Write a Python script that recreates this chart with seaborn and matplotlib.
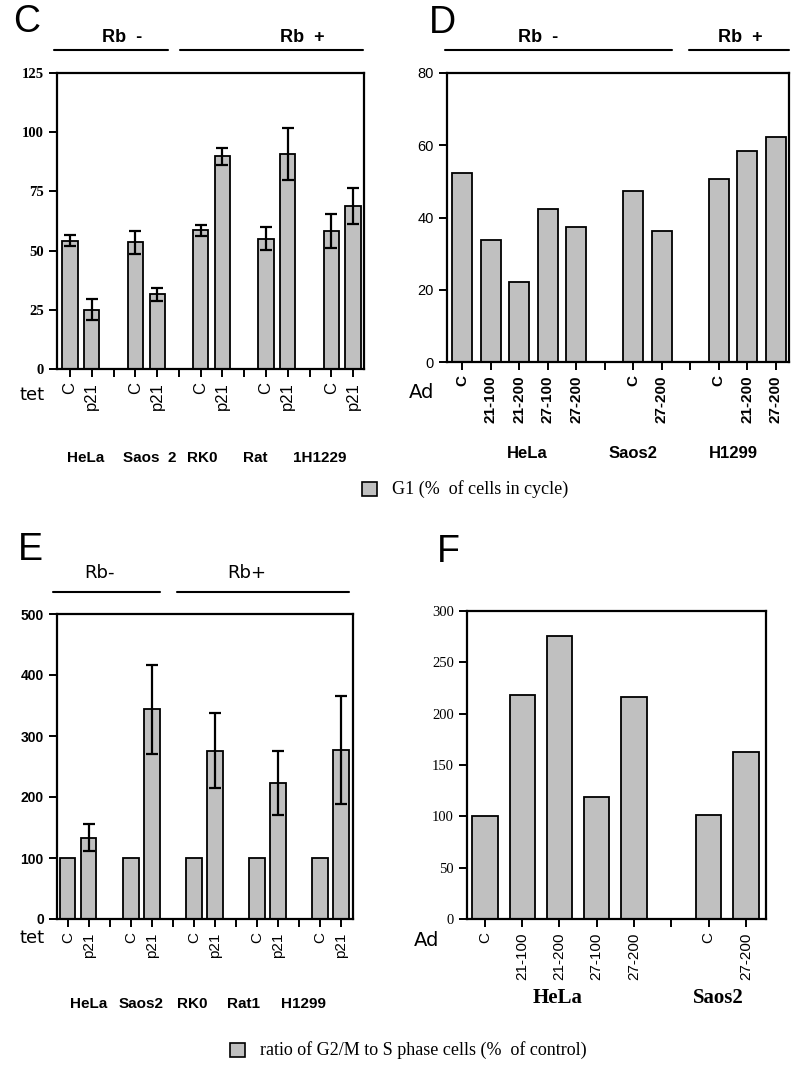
import numpy as np
import pandas as pd
import matplotlib
matplotlib.use('Agg')
import matplotlib.pyplot as plt
import seaborn as sns

# ---- data ----
# C: G1 (% of cells in cycle), tet-inducible p21
c_cells = ['HeLa', 'Saos2', 'RK0', 'Rat1', 'H1229']
c_conds = ['C', 'p21']
c_values = [54.2, 25.1, 53.5, 31.6, 58.6, 89.9, 55.0, 90.8, 58.2, 68.8]
c_errors = [2.3, 4.3, 4.8, 2.8, 2.4, 3.6, 4.8, 11.1, 7.3, 7.6]

# D: G1 (% of cells in cycle), adenovirus
d_groups = ['HeLa', 'HeLa', 'HeLa', 'HeLa', 'HeLa', 'Saos2', 'Saos2', 'H1299', 'H1299', 'H1299']
d_conds = ['C', '21-100', '21-200', '27-100', '27-200', 'C', '27-200', 'C', '21-200', '27-200']
d_values = [52.4, 33.8, 22.2, 42.4, 37.4, 47.3, 36.3, 50.7, 58.5, 62.3]

# E: ratio of G2/M to S phase cells (% of control), tet-inducible p21
e_cells = ['HeLa', 'Saos2', 'RK0', 'Rat1', 'H1299']
e_values = [100, 133, 100, 344, 100, 276, 100, 223, 100, 277]
e_errors = [0, 22, 0, 73, 0, 61, 0, 53, 0, 88]

# F: ratio of G2/M to S phase cells (% of control), adenovirus
f_groups = ['HeLa', 'HeLa', 'HeLa', 'HeLa', 'HeLa', 'Saos2', 'Saos2']
f_conds = ['C', '21-100', '21-200', '27-100', '27-200', 'C', '27-200']
f_values = [100, 218, 276, 119, 216, 101, 163]

BAR = '#c0c0c0'
W, H = 800, 1074

sns.set_theme(style='white')
plt.rcParams['axes.linewidth'] = 1.6
plt.rcParams['text.color'] = 'black'
plt.rcParams['xtick.color'] = 'black'
plt.rcParams['ytick.color'] = 'black'
plt.rcParams['axes.edgecolor'] = 'black'


def slots(groups, conds):
    # one category per bar, plus an empty slot between cell lines
    order, keys, labels = [], [], []
    prev = None
    for i, (g, c) in enumerate(zip(groups, conds)):
        if prev is not None and g != prev:
            order.append('gap%d' % i)
            labels.append('')
        key = g + ' ' + c
        order.append(key)
        keys.append(key)
        labels.append(c)
        prev = g
    return order, keys, labels


def panel(ax, order, keys, vals, labels, errs=None, width=0.7):
    df = pd.DataFrame({'cat': keys, 'val': vals})
    sns.barplot(data=df, x='cat', y='val', order=order, color=BAR, saturation=1,
                edgecolor='black', linewidth=1.3, width=width, errorbar=None, ax=ax)
    if errs is not None:
        pos = [order.index(k) for k in keys]
        e = np.array(errs, dtype=float)
        m = e > 0
        ax.errorbar(np.array(pos)[m], np.array(vals)[m], yerr=e[m], fmt='none',
                    ecolor='black', elinewidth=1.6, capsize=4, capthick=1.6)
    ax.set_xticks(range(len(order)))
    ax.set_xticklabels(labels, rotation=90)
    ax.set_xlabel('')
    ax.set_ylabel('')
    for s in ax.spines.values():
        s.set_visible(True)
        s.set_color('black')
    ax.tick_params(axis='both', direction='out', length=6, width=1.4, color='black',
                   labelcolor='black', bottom=True, left=True)


def fx(x):
    return x / W


def fy(y):
    return 1 - y / H


def hline(fig, x0, x1, y):
    fig.add_artist(plt.Line2D([fx(x0), fx(x1)], [fy(y), fy(y)], color='black', lw=1.5,
                              transform=fig.transFigure))


fig = plt.figure(figsize=(8, 10.74), dpi=100)

# ---------- C ----------
axC = fig.add_axes([fx(57), fy(369), fx(364 - 57), (369 - 73) / H])
groups = [c for c in c_cells for _ in c_conds]
conds = c_conds * len(c_cells)
order, keys, labels = slots(groups, conds)
panel(axC, order, keys, c_values, labels, c_errors, width=0.7)
axC.set_ylim(0, 125)
axC.set_yticks([0, 25, 50, 75, 100, 125])
axC.set_xlim(-0.6, 13.5)
for t in axC.get_yticklabels():
    t.set_fontfamily('Liberation Serif'); t.set_fontweight('bold'); t.set_fontsize(10.5)
for t in axC.get_xticklabels():
    t.set_fontfamily('Liberation Sans'); t.set_fontsize(12)

# ---------- D ----------
axD = fig.add_axes([fx(447), fy(362), fx(789 - 447), (362 - 73) / H])
order, keys, labels = slots(d_groups, d_conds)
panel(axD, order, keys, d_values, labels, width=0.7)
axD.set_ylim(0, 80)
axD.set_yticks([0, 20, 40, 60, 80])
axD.set_xlim(-0.53, 11.47)
for t in axD.get_yticklabels():
    t.set_fontfamily('Liberation Sans'); t.set_fontsize(10.5)
for t in axD.get_xticklabels():
    t.set_fontfamily('Liberation Sans'); t.set_fontweight('bold'); t.set_fontsize(11)

# ---------- E ----------
axE = fig.add_axes([fx(57), fy(919), fx(353 - 57), (919 - 614) / H])
groups = [c for c in e_cells for _ in c_conds]
conds = c_conds * len(e_cells)
order, keys, labels = slots(groups, conds)
panel(axE, order, keys, e_values, labels, e_errors, width=0.72)
axE.set_ylim(0, 500)
axE.set_yticks([0, 100, 200, 300, 400, 500])
axE.set_xlim(-0.52, 13.57)
for t in axE.get_yticklabels():
    t.set_fontfamily('Liberation Sans'); t.set_fontweight('bold'); t.set_fontsize(10)
for t in axE.get_xticklabels():
    t.set_fontfamily('Liberation Sans'); t.set_fontsize(11)

# ---------- F ----------
axF = fig.add_axes([fx(467), fy(919), fx(766 - 467), (919 - 611) / H])
order, keys, labels = slots(f_groups, f_conds)
panel(axF, order, keys, f_values, labels, width=0.68)
axF.set_ylim(0, 300)
axF.set_yticks([0, 50, 100, 150, 200, 250, 300])
axF.set_xlim(-0.48, 7.54)
for t in axF.get_yticklabels():
    t.set_fontfamily('Liberation Serif'); t.set_fontsize(10.5)
for t in axF.get_xticklabels():
    t.set_fontfamily('Liberation Sans'); t.set_fontsize(11)

# ---------- panel letters, Rb headers ----------
for letter, x, y in [('C', 27, 22), ('D', 442, 23), ('E', 30, 550), ('F', 448, 552)]:
    fig.text(fx(x), fy(y), letter, fontsize=27, family='Liberation Sans', ha='center', va='center')

hline(fig, 54, 168, 50); hline(fig, 180, 363, 50)
fig.text(fx(122), fy(37), 'Rb  -', fontsize=13, weight='bold', family='Liberation Sans', ha='center', va='center')
fig.text(fx(302), fy(37), 'Rb  +', fontsize=13, weight='bold', family='Liberation Sans', ha='center', va='center')

hline(fig, 445, 672, 50); hline(fig, 689, 789, 50)
fig.text(fx(538), fy(37), 'Rb  -', fontsize=13, weight='bold', family='Liberation Sans', ha='center', va='center')
fig.text(fx(740), fy(37), 'Rb  +', fontsize=13, weight='bold', family='Liberation Sans', ha='center', va='center')

hline(fig, 53, 160, 592); hline(fig, 177, 349, 592)
fig.text(fx(100), fy(573), 'Rb-', fontsize=13, family='DejaVu Sans', ha='center', va='center')
fig.text(fx(247), fy(573), 'Rb+', fontsize=13, family='DejaVu Sans', ha='center', va='center')

# ---------- row labels under axes ----------
fig.text(fx(32), fy(395), 'tet', fontsize=13, family='DejaVu Sans', ha='center', va='center')
fig.text(fx(32), fy(938), 'tet', fontsize=13, family='DejaVu Sans', ha='center', va='center')
fig.text(fx(422), fy(392), 'Ad', fontsize=14, family='DejaVu Sans', ha='center', va='center')
fig.text(fx(427), fy(941), 'Ad', fontsize=14, family='DejaVu Sans', ha='center', va='center')

for name, x in [('HeLa', 86), ('Saos  2', 150), ('RK0', 202), ('Rat', 255), ('1H1229', 320)]:
    fig.text(fx(x), fy(458), name, fontsize=11, weight='bold', family='Liberation Sans', ha='center', va='center')
for name, x in [('HeLa', 527), ('Saos2', 633), ('H1299', 733)]:
    fig.text(fx(x), fy(453), name, fontsize=12, weight='bold', family='Liberation Sans', ha='center', va='center')
for name, x in [('HeLa', 89), ('Saos2', 141), ('RK0', 192), ('Rat1', 244), ('H1299', 303)]:
    fig.text(fx(x), fy(1004), name, fontsize=11, weight='bold', family='Liberation Sans', ha='center', va='center')
for name, x in [('HeLa', 558), ('Saos2', 718)]:
    fig.text(fx(x), fy(998), name, fontsize=15, weight='bold', family='Liberation Serif', ha='center', va='center')

# ---------- legends ----------
for sx, sy, txt in [(362, 489, 'G1 (%  of cells in cycle)'),
                    (230, 1050, 'ratio of G2/M to S phase cells (%  of control)')]:
    fig.add_artist(plt.Rectangle((fx(sx), fy(sy + 7)), 15 / W, 14 / H, facecolor=BAR,
                                 edgecolor='black', lw=1.2, transform=fig.transFigure))
    fig.text(fx(sx + 30), fy(sy), txt, fontsize=13, family='Liberation Serif', ha='left', va='center')

fig.savefig('out.png', dpi=100)
